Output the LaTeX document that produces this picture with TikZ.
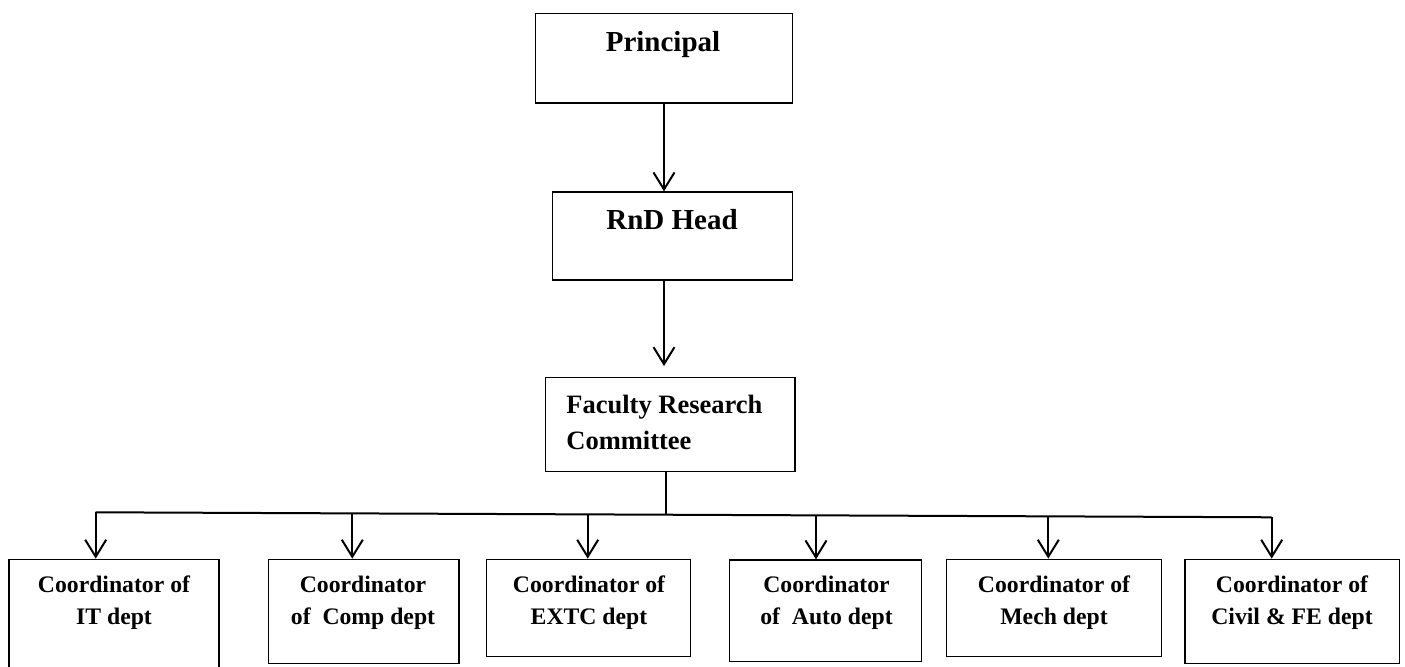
\documentclass[tikz,border=0pt]{standalone}
\usepackage{fontspec}
\setmainfont{Liberation Serif}
\usetikzlibrary{arrows.meta,calc}
\begin{document}
\begin{tikzpicture}[x=0.5pt,y=-0.5pt,
  box/.style={draw,line width=0.65pt,inner sep=0pt,rectangle},
  txt/.style={inner sep=0pt,font=\bfseries},
  arr/.style={line width=1pt,-{Straight Barb[length=8.5pt,width=10.5pt,line width=1pt]}},
  ln/.style={line width=1pt}]
\useasboundingbox (0,0) rectangle (1405,667);
% boxes
\node[box,minimum width=128.3pt,minimum height=44.65pt] (P) at (664,58.35) {};
\node[box,minimum width=120pt,minimum height=44pt] (R) at (672.3,236) {};
\node[box,minimum width=124.65pt,minimum height=47pt] (F) at (670.35,424.7) {};
\node[box,minimum width=105pt,minimum height=56.35pt] (IT) at (114,615.65) {};
\node[box,minimum width=95.35pt,minimum height=52pt] (CO) at (363.65,611.3) {};
\node[box,minimum width=102pt,minimum height=48.7pt] (EX) at (588.7,608) {};
\node[box,minimum width=96.2pt,minimum height=50.85pt] (AU) at (825.5,610.85) {};
\node[box,minimum width=107.5pt,minimum height=48.7pt] (ME) at (1054.2,608) {};
\node[box,minimum width=107.15pt,minimum height=52.2pt] (CI) at (1292.15,611.5) {};
% texts
\node[txt,anchor=base,font=\bfseries\fontsize{14.5}{17}\selectfont] (tP) at (663,51.7) {Principal};
\node[txt,anchor=base,font=\bfseries\fontsize{14.5}{17}\selectfont] (tR) at (672,229.3) {RnD Head};
\node[txt,anchor=north west,align=left,font=\bfseries\fontsize{13.25}{17.85}\selectfont] (tF) at (566,394.6) {Faculty Research\\Committee};
\tikzset{ct/.style={txt,anchor=north,align=center,font=\bfseries\fontsize{11.85}{15.85}\selectfont}}
\node[ct] (tIT) at (114,575.5) {Coordinator of\\IT dept};
\node[ct] (tCO) at (363,575.5) {Coordinator\\of~~Comp dept};
\node[ct] (tEX) at (589,575.5) {Coordinator of\\EXTC dept};
\node[ct] (tAU) at (826.5,575.5) {Coordinator\\of~~Auto dept};
\node[ct] (tME) at (1054,575.5) {Coordinator of\\Mech dept};
\node[ct] (tCI) at (1292,575.5) {Coordinator of\\Civil \& FE dept};
% connectors
\draw[arr] (P.south) -- (P.south |- R.north);
\draw[arr,shorten >=5.5pt] (P.south |- R.south) -- (P.south |- F.north);
\coordinate (L) at (95.7,512.3);
\coordinate (Rr) at (1271.7,517.3);
\coordinate (J) at (666,514.7);
\draw[ln] (F.south -| J) -- (J);
\draw[ln] (L) -- (Rr);
\coordinate (a1) at (95.7,512.3);
\coordinate (a2) at (352.3,513.4);
\coordinate (a3) at (587.7,514.4);
\coordinate (a4) at (816,515.4);
\coordinate (a5) at (1048.3,516.4);
\coordinate (a6) at (1271.7,517.3);
\draw[arr] (a1) -- (a1 |- IT.north);
\draw[arr] (a2) -- (a2 |- CO.north);
\draw[arr] (a3) -- (a3 |- EX.north);
\draw[arr] (a4) -- (a4 |- AU.north);
\draw[arr] (a5) -- (a5 |- ME.north);
\draw[arr] (a6) -- (a6 |- CI.north);
\end{tikzpicture}
\end{document}
